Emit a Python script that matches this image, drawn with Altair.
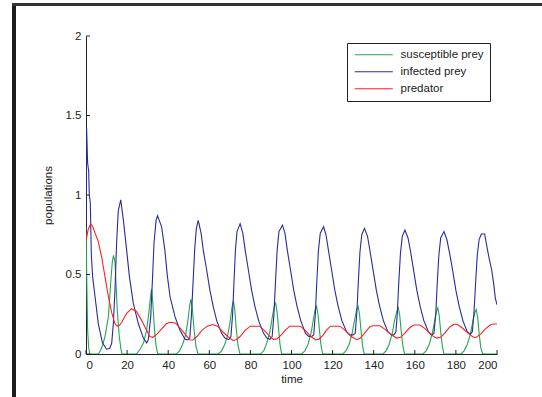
import altair as alt
import pandas as pd

# ---------------- data ----------------
series_names = ["susceptible prey", "infected prey", "predator"]
series_colors = ["#22a852", "#2b2b98", "#ff1f1f"]

infected_t = [0, 0.3, 0.8, 1.3, 1.6, 2.1, 2.6, 3.2, 4.4, 6.0, 8.0, 10.0, 11.5, 12.5, 13.3, 14.1, 14.9, 15.7, 16.9,
              18.2, 19.8, 21.1, 23.0, 25.5, 27.9, 29.5, 30.3, 31.5, 32.4, 33.1, 34.1, 34.8,
              36.8, 38.4, 39.6, 40.9, 43.3, 45.7, 48.2, 49.5, 50.5, 51.3, 52.1, 52.9, 53.7, 54.6,
              56.0, 57.1, 58.7, 60.3, 61.9, 63.6, 66.0, 67.6, 69.5, 70.5, 71.3, 72.0, 72.7, 73.5, 75.0,
              76.3, 77.5, 79.0, 80.6, 82.2, 84.0, 86.4, 88.0, 89.5, 90.6, 91.4, 92.2, 93.0, 93.9, 95.6,
              96.8, 98.0, 99.5, 101.1, 102.7, 104.5, 106.8, 108.4, 109.8, 110.8, 111.6, 112.3, 113.1, 114.0, 115.6,
              116.8, 118.0, 119.5, 121.1, 122.7, 124.5, 126.8, 128.5, 130.0, 131.0, 131.8, 132.5, 133.3, 134.2, 135.5,
              137.0, 138.3, 139.8, 141.3, 142.9, 144.7, 146.9, 148.6, 149.8, 150.8, 151.5, 152.2, 153.0, 153.9, 155.2,
              156.7, 158.0, 159.5, 161.0, 162.6, 164.4, 166.6, 168.2, 169.3, 170.2, 170.9, 171.7, 172.6, 174.2,
              175.6, 177.0, 178.5, 180.0, 181.6, 183.4, 185.5, 186.9, 188.0, 188.8, 189.6, 190.4, 191.3, 192.4, 194.0,
              195.3, 196.2, 197.4, 198.5, 199.2, 200.0]
infected_v = [0.75, 1.42, 1.20, 1.15, 1.00, 0.95, 0.62, 0.49, 0.36, 0.19, 0.07, 0.03, 0.035, 0.067, 0.19, 0.40, 0.70, 0.90, 0.97,
              0.84, 0.65, 0.49, 0.32, 0.19, 0.10, 0.07, 0.088, 0.235, 0.486, 0.70, 0.84, 0.87,
              0.80, 0.65, 0.49, 0.36, 0.235, 0.15, 0.092, 0.088, 0.10, 0.24, 0.45, 0.66, 0.79, 0.84,
              0.76, 0.65, 0.53, 0.40, 0.30, 0.21, 0.13, 0.10, 0.09, 0.11, 0.24, 0.45, 0.65, 0.77, 0.82,
              0.76, 0.65, 0.53, 0.40, 0.30, 0.21, 0.13, 0.10, 0.092, 0.11, 0.24, 0.45, 0.65, 0.77, 0.81,
              0.76, 0.65, 0.53, 0.40, 0.30, 0.21, 0.13, 0.11, 0.11, 0.12, 0.25, 0.45, 0.65, 0.76, 0.80,
              0.75, 0.65, 0.53, 0.40, 0.30, 0.21, 0.14, 0.12, 0.12, 0.13, 0.26, 0.45, 0.64, 0.75, 0.79,
              0.74, 0.64, 0.52, 0.40, 0.30, 0.21, 0.14, 0.12, 0.12, 0.14, 0.26, 0.45, 0.63, 0.74, 0.78,
              0.73, 0.64, 0.52, 0.40, 0.30, 0.21, 0.14, 0.12, 0.13, 0.25, 0.44, 0.62, 0.73, 0.77,
              0.72, 0.63, 0.52, 0.40, 0.30, 0.21, 0.14, 0.125, 0.14, 0.26, 0.45, 0.62, 0.72, 0.755, 0.755,
              0.66, 0.60, 0.53, 0.43, 0.35, 0.31]

susceptible_t = [0, 0.4, 0.8, 1.3, 1.8, 2.5, 6.0, 7.0, 8.2, 9.4, 10.9, 12.0, 12.8, 13.4, 14.1, 14.6, 15.2, 16.2, 17.0, 17.6,
                 24.5, 26.3, 28.0, 29.5, 30.5, 31.3, 31.9, 32.5, 33.3, 34.0, 34.8, 35.5,
                 44.0, 45.5, 47.0, 48.5, 49.5, 50.4, 51.1, 51.8, 52.6, 53.5, 54.5,
                 64.5, 66.0, 67.5, 69.0, 70.1, 71.0, 71.7, 72.4, 73.1, 73.9, 74.9,
                 85.0, 86.5, 88.0, 89.5, 90.7, 91.6, 92.3, 93.0, 93.7, 94.4, 95.2,
                 105.0, 106.5, 108.0, 109.5, 110.7, 111.5, 112.2, 112.9, 113.6, 114.4, 115.2,
                 125.0, 126.5, 128.0, 129.5, 130.8, 131.7, 132.4, 133.1, 133.8, 134.6, 135.4,
                 144.5, 146.0, 147.5, 149.0, 150.3, 151.3, 152.0, 152.7, 153.4, 154.2, 155.0,
                 164.0, 165.5, 167.0, 168.5, 169.8, 170.6, 171.2, 171.9, 172.6, 173.4, 174.2,
                 182.5, 184.0, 185.5, 187.0, 188.3, 189.2, 189.9, 190.6, 191.3, 192.1, 193.0, 200.0]
susceptible_v = [0.80, 0.45, 0.15, 0.04, 0.005, 0, 0, 0.02, 0.06, 0.12, 0.235, 0.445, 0.58, 0.62, 0.58, 0.445, 0.28, 0.11, 0.03, 0,
                 0, 0.03, 0.07, 0.15, 0.25, 0.35, 0.41, 0.32, 0.16, 0.06, 0.005, 0,
                 0, 0.02, 0.06, 0.12, 0.20, 0.30, 0.345, 0.28, 0.15, 0.05, 0,
                 0, 0.02, 0.06, 0.12, 0.20, 0.29, 0.335, 0.28, 0.16, 0.06, 0,
                 0, 0.02, 0.07, 0.14, 0.235, 0.30, 0.32, 0.26, 0.16, 0.06, 0,
                 0, 0.02, 0.06, 0.13, 0.22, 0.28, 0.30, 0.25, 0.15, 0.05, 0,
                 0, 0.02, 0.06, 0.13, 0.22, 0.28, 0.30, 0.25, 0.15, 0.05, 0,
                 0, 0.02, 0.06, 0.13, 0.22, 0.27, 0.29, 0.24, 0.14, 0.05, 0,
                 0, 0.02, 0.06, 0.13, 0.22, 0.27, 0.29, 0.24, 0.14, 0.05, 0,
                 0, 0.02, 0.06, 0.12, 0.21, 0.26, 0.28, 0.23, 0.13, 0.04, 0, 0]

predator_t = [0, 1.0, 2.3, 3.3, 4.4, 5.9, 7.6, 9.2, 10.9, 12.5, 14.1, 15.3, 16.3, 17.4, 19.8, 22.2, 24.7, 27.1, 29.5,
              31.0, 32.5, 34.5, 37.0, 39.0, 41.0, 43.5, 46.0, 48.5, 50.5, 52.0, 54.0, 56.5, 59.0, 61.5, 64.0,
              66.5, 69.0, 71.5, 73.0, 75.0, 77.5, 80.0, 84.5, 87.0, 89.5, 91.2, 93.0, 95.0, 97.0, 99.2, 104.2,
              106.5, 109.5, 111.8, 113.5, 115.5, 117.0, 119.0, 123.5, 126.0, 129.0, 131.8, 133.5, 135.5, 138.0,
              139.5, 143.0, 145.5, 148.5, 151.2, 153.0, 155.0, 157.5, 159.5, 162.5, 165.0, 168.0, 170.6, 172.5,
              174.5, 177.0, 179.0, 180.5, 183.0, 186.0, 188.5, 190.0, 192.0, 194.5, 197.0, 198.5, 200.0]
predator_v = [0.71, 0.78, 0.82, 0.80, 0.76, 0.71, 0.61, 0.49, 0.36, 0.26, 0.19, 0.176, 0.18, 0.20, 0.256, 0.285, 0.266, 0.21, 0.15,
              0.11, 0.105, 0.125, 0.16, 0.19, 0.20, 0.195, 0.16, 0.12, 0.09, 0.088, 0.11, 0.15, 0.175, 0.185, 0.175,
              0.14, 0.11, 0.085, 0.09, 0.11, 0.15, 0.175, 0.175, 0.145, 0.11, 0.092, 0.095, 0.12, 0.15, 0.175, 0.175,
              0.15, 0.11, 0.088, 0.095, 0.12, 0.15, 0.175, 0.175, 0.15, 0.11, 0.09, 0.10, 0.13, 0.17,
              0.178, 0.178, 0.155, 0.12, 0.10, 0.105, 0.13, 0.165, 0.182, 0.182, 0.16, 0.12, 0.10, 0.105,
              0.13, 0.17, 0.187, 0.187, 0.165, 0.13, 0.105, 0.105, 0.125, 0.16, 0.185, 0.189, 0.189]

x_ticks = [0, 20, 40, 60, 80, 100, 120, 140, 160, 180, 200]
y_ticks = [0, 0.5, 1, 1.5, 2]

# ---------------- build table ----------------
rows = []
for name, ts, vs in [(series_names[0], susceptible_t, susceptible_v),
                     (series_names[1], infected_t, infected_v),
                     (series_names[2], predator_t, predator_v)]:
    for i, (t, v) in enumerate(zip(ts, vs)):
        rows.append({"time": t, "value": v, "series": name, "order": i})
df = pd.DataFrame(rows)

FONT = "Liberation Sans"
W, H = 411, 318

x_scale = alt.Scale(domain=[0, 200], nice=False, zero=False)
y_scale = alt.Scale(domain=[0, 2], nice=False)
x_axis = alt.Axis(values=x_ticks, ticks=False, labelPadding=5, titlePadding=3, grid=False)
y_axis = alt.Axis(values=y_ticks, format="~g", ticks=False, labelPadding=5, titlePadding=12, grid=False)

lines = alt.Chart(df).mark_line(strokeWidth=1.1, clip=True).encode(
    x=alt.X("time:Q", scale=x_scale, title="time", axis=x_axis),
    y=alt.Y("value:Q", scale=y_scale, title="populations", axis=y_axis),
    color=alt.Color("series:N",
                    scale=alt.Scale(domain=series_names, range=series_colors),
                    sort=series_names,
                    legend=alt.Legend(orient="none", legendX=261, legendY=7, title=None,
                                      symbolType="M-5,0H5", symbolSize=58, symbolStrokeWidth=1,
                                      symbolOffset=15,
                                      labelFont=FONT, labelFontSize=11.5, labelColor="#222",
                                      labelOffset=21, strokeColor="#222", fillColor="white",
                                      padding=6, rowPadding=4)),
    detail="series:N",
    order="order:Q",
)

xt = alt.Chart(pd.DataFrame({"time": x_ticks})).mark_rule(color="#222", strokeWidth=1).encode(
    x=alt.X("time:Q", scale=x_scale, title="time", axis=x_axis),
    y=alt.value(H), y2=alt.value(H - 4),
)
yt = alt.Chart(pd.DataFrame({"value": y_ticks})).mark_rule(color="#222", strokeWidth=1).encode(
    y=alt.Y("value:Q", scale=y_scale, title="populations", axis=y_axis),
    x=alt.value(0), x2=alt.value(4),
)

frame_left = alt.Chart(pd.DataFrame({"k": [0]})).mark_rule(color="#1c1c1c", strokeWidth=4).encode(
    x=alt.value(-72), y=alt.value(-33), y2=alt.value(361))
frame_top = alt.Chart(pd.DataFrame({"k": [0]})).mark_rule(color="#333333", strokeWidth=3).encode(
    x=alt.value(-74), x2=alt.value(456), y=alt.value(-31.5))

chart = alt.layer(lines, xt, yt, frame_left, frame_top).properties(
    width=W, height=H,
    padding={"left": 86, "top": 36, "right": 45, "bottom": 43},
    autosize=alt.AutoSizeParams(type="none"),
    background="white",
).configure_view(stroke=None).configure_axis(
    domainColor="#222", domainWidth=1,
    labelFont=FONT, labelFontSize=11.5, labelColor="#222",
    titleFont=FONT, titleFontSize=11.5, titleColor="#222", titleFontWeight="normal",
)

chart.save("out.html", embed_options={"renderer": "svg", "actions": False})
